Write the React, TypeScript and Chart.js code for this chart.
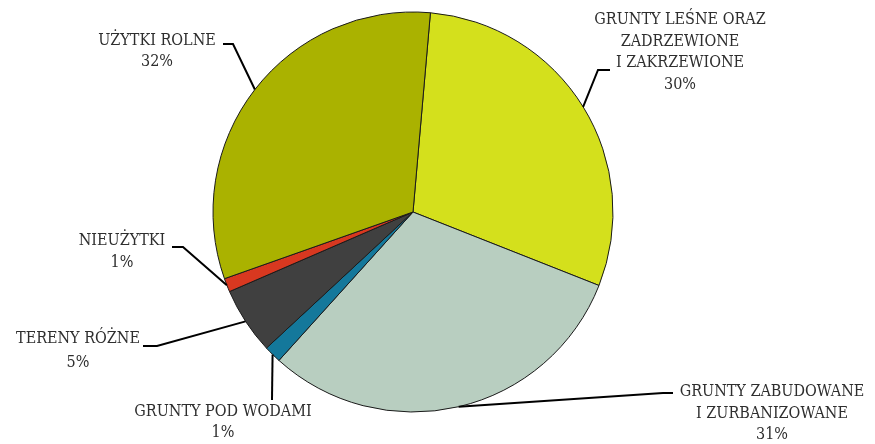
import React, { useEffect, useRef } from "react";
import { Chart, registerables } from "chart.js";

Chart.register(...registerables);

const categories: string[][] = [
  ["GRUNTY LEŚNE ORAZ", "ZADRZEWIONE", "I ZAKRZEWIONE"],
  ["GRUNTY ZABUDOWANE", "I ZURBANIZOWANE"],
  ["GRUNTY POD WODAMI"],
  ["TERENY RÓŻNE"],
  ["NIEUŻYTKI"],
  ["UŻYTKI ROLNE"],
];
const values: number[] = [29.6, 30.7, 1.4, 5.4, 1.1, 31.8];
const colors: string[] = ["#d4e01c", "#b8cec0", "#14789b", "#404040", "#d83820", "#aab200"];

// label placement relative to pie centre (px): elbow, line end, text centre x, first line centre y, line height
const labelLayout = [
  { ex: 185, ey: -142, lx: 197, ly: -142, tx: 267, ty: -192, lh: 21.5 },
  { ex: 250, ey: 181, lx: 260, ly: 181, tx: 359, ty: 180, lh: 21.5 },
  { ex: -141, ey: 188, lx: -141, ly: 188, tx: -190, ty: 200, lh: 21 },
  { ex: -256, ey: 134, lx: -270, ly: 134, tx: -335, ty: 127, lh: 24 },
  { ex: -230, ey: 35, lx: -241, ly: 35, tx: -291, ty: 29, lh: 22 },
  { ex: -180, ey: -168, lx: -190, ly: -168, tx: -256, ty: -171, lh: 21 },
];

const FONT = '16px "DejaVu Serif Condensed", "DejaVu Serif", serif';

const labelPlugin = {
  id: "pieLabels",
  afterDatasetsDraw(chart: any) {
    const ctx = chart.ctx as CanvasRenderingContext2D;
    const meta = chart.getDatasetMeta(0);
    const total = values.reduce((a, b) => a + b, 0);
    meta.data.forEach((arc: any, i: number) => {
      const p = arc.getProps(["x", "y", "startAngle", "endAngle", "outerRadius"], true);
      const mid = (p.startAngle + p.endAngle) / 2;
      const sx = p.x + Math.cos(mid) * p.outerRadius;
      const sy = p.y + Math.sin(mid) * p.outerRadius;
      const L = labelLayout[i];
      ctx.save();
      ctx.strokeStyle = "#000";
      ctx.lineWidth = 2;
      ctx.beginPath();
      ctx.moveTo(sx, sy);
      ctx.lineTo(p.x + L.ex, p.y + L.ey);
      ctx.lineTo(p.x + L.lx, p.y + L.ly);
      ctx.stroke();
      ctx.fillStyle = "#2e2e2e";
      ctx.font = FONT;
      ctx.textAlign = "center";
      ctx.textBaseline = "middle";
      const lines = [...categories[i], Math.round((values[i] / total) * 100) + "%"];
      lines.forEach((t, k) => {
        ctx.fillText(t, p.x + L.tx, p.y + L.ty + k * L.lh);
      });
      ctx.restore();
    });
  },
};

export default function App() {
  const ref = useRef<HTMLCanvasElement>(null);
  useEffect(() => {
    if (!ref.current) return;
    const chart = new Chart(ref.current, {
      type: "pie",
      data: {
        labels: categories.map((c) => c.join(" ")),
        datasets: [
          {
            data: values,
            backgroundColor: colors,
            borderColor: "#1a1a1a",
            borderWidth: 1,
          },
        ],
      },
      options: {
        animation: false,
        responsive: true,
        maintainAspectRatio: false,
        rotation: 5,
        radius: 200,
        layout: { padding: { left: 0, right: 49, top: 0, bottom: 20 } },
        plugins: { legend: { display: false }, tooltip: { enabled: false } },
      } as any,
      plugins: [labelPlugin],
    });
    return () => chart.destroy();
  }, []);
  return (
    <div style={{ position: "fixed", left: 0, top: 0, width: 875, height: 444, background: "#fff" }}>
      <canvas ref={ref} />
    </div>
  );
}
